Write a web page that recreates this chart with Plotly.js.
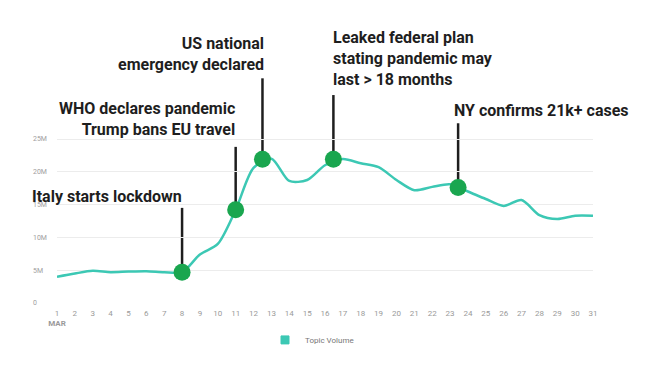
<!DOCTYPE html>
<html>
<head>
<meta charset="utf-8">
<script src="https://cdn.plot.ly/plotly-3.0.1.min.js"></script>
<style>html,body{margin:0;padding:0;background:#fff;}#chart{width:652px;height:367px;}</style>
</head>
<body>
<div id="chart"></div>
<script>
// ---- data ----
const days = [1,2,3,4,5,6,7,8,9,10,11,12,13,14,15,16,17,18,19,20,21,22,23,24,25,26,27,28,29,30,31];
const topicVolume = [4.0,4.5,4.9,4.7,4.8,4.85,4.7,4.7,7.4,9.0,14.2,20.6,22.0,18.6,18.75,21.0,21.95,21.3,20.7,18.75,17.2,17.7,18.1,17.0,15.85,14.8,15.7,13.4,12.8,13.3,13.3].map(v => v * 1e6);
const xTickVals = days;
const xTickText = days.map(d => d === 1 ? '1<br><b>MAR</b>' : String(d));
const yTickVals = [0, 5e6, 10e6, 15e6, 20e6, 25e6];
const yTickText = ['0', '5M', '10M', '15M', '20M', '25M'];

const eventDays = [8, 11, 12.5, 16.47, 23.45];
const eventValues = [4.7e6, 14.2e6, 21.9e6, 21.9e6, 17.6e6];
const eventLineTops = [14.5e6, 23.8e6, 34.25e6, 31.7e6, 27.4e6];
const eventLabels = [
  'Italy starts lockdown',
  'WHO declares pandemic<br>Trump bans EU travel',
  'US national<br>emergency declared',
  'Leaked federal plan<br>stating pandemic may<br>last > 18 months',
  'NY confirms 21k+ cases'
];
const eventLabelY = [16.2e6, 28.0e6, 37.9e6, 37.2e6, 29.3e6];
const eventAlign = ['right', 'right', 'right', 'left', 'left'];
const eventShift = [2, 1, 3.5, -2, -6.5];

// ---- styles ----
const teal = '#3cc8b4';
const green = '#1aa64f';
const ink = '#1e1e1e';

const traces = [
  {
    x: days, y: topicVolume, type: 'scatter', mode: 'lines',
    line: {color: teal, width: 2.5, shape: 'spline', smoothing: 0.8},
    showlegend: false, hoverinfo: 'skip'
  },
  {
    x: eventDays, y: eventValues, type: 'scatter', mode: 'markers',
    marker: {color: green, size: 17},
    showlegend: false, hoverinfo: 'skip', cliponaxis: false
  },
  {
    x: [null], y: [null], type: 'scatter', mode: 'markers', name: 'Topic Volume',
    marker: {color: teal, size: 8, symbol: 'square', line: {color: teal, width: 1}}
  }
];

const shapes = eventDays.map((d, i) => ({
  type: 'line', xref: 'x', yref: 'y',
  x0: d, x1: d, y0: eventValues[i], y1: eventLineTops[i],
  line: {color: ink, width: 2.5}, layer: 'below'
}));

const annotations = eventDays.map((d, i) => ({
  x: d, y: eventLabelY[i], xref: 'x', yref: 'y',
  text: eventLabels[i], showarrow: false,
  xanchor: eventAlign[i], yanchor: 'middle', align: eventAlign[i],
  xshift: eventShift[i],
  font: {family: 'Roboto, sans-serif', size: 16, color: ink, weight: 700}
}));

const layout = {
  width: 652, height: 367,
  margin: {l: 29, r: 59, t: 10, b: 64},
  paper_bgcolor: '#fff', plot_bgcolor: '#fff',
  font: {family: 'Roboto, sans-serif'},
  xaxis: {
    domain: [28/564, 1],
    range: [1, 31], tickvals: xTickVals, ticktext: xTickText,
    showgrid: false, zeroline: false, showline: false, ticks: '',
    tickfont: {size: 8, color: '#9a9a9a'}, ticklabelstandoff: 4,
    fixedrange: true
  },
  yaxis: {
    anchor: 'free', position: 0,
    range: [0, 293 / 6.56 * 1e6], tickvals: yTickVals, ticktext: yTickText,
    showgrid: true, gridcolor: '#ececec', gridwidth: 1,
    zeroline: false, showline: false, ticks: '',
    ticklabelposition: 'inside', ticklabeloverflow: 'allow',
    tickfont: {size: 7, color: '#a0a0a0'},
    fixedrange: true
  },
  showlegend: true,
  legend: {
    orientation: 'h', x: (265 - 29) / 564, xanchor: 'left',
    y: -0.126, yanchor: 'middle', itemwidth: 30,
    font: {size: 8, color: '#777'}
  },
  shapes: shapes,
  annotations: annotations
};

Plotly.newPlot('chart', traces, layout, {displayModeBar: false, staticPlot: true});
</script>
</body>
</html>
